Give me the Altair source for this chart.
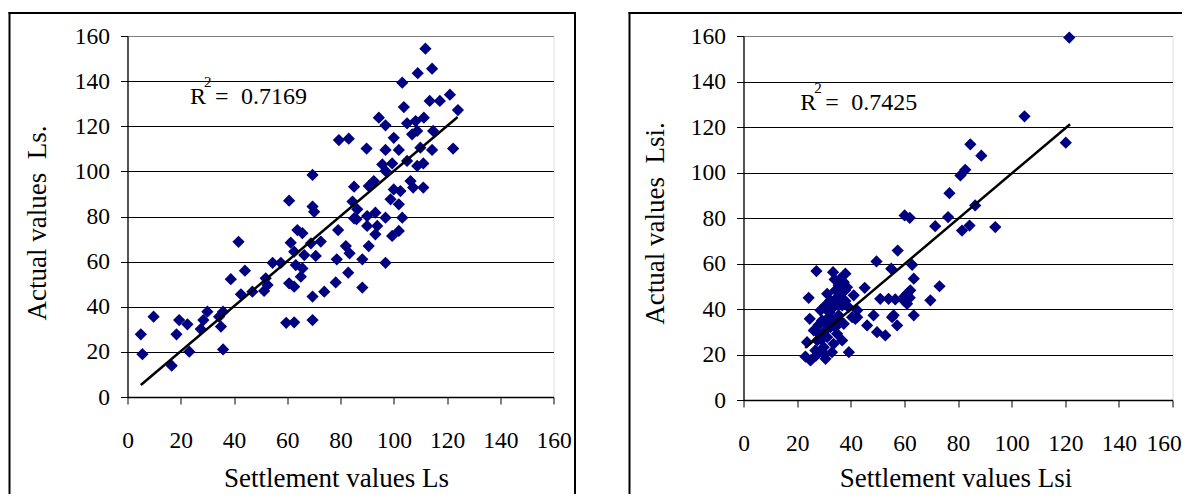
import altair as alt
import pandas as pd

FONT = "Liberation Serif"

# ---------------- data ----------------
ls_x = [5.0, 5.6, 9.8, 16.6, 18.4, 19.4, 22.5, 23.2, 27.5, 28.5, 30.0, 34.4, 35.1, 35.9, 35.9,
        38.8, 41.7, 42.6, 44.1, 46.9, 51.3, 51.9, 52.6, 54.5, 57.6, 59.6, 60.7, 61.3, 62.6, 62.6,
        60.7, 62.6, 63.2, 63.8, 65.7, 65.1, 65.7, 66.4, 68.9, 69.5, 69.5, 70.1, 69.5, 69.5, 70.7,
        72.6, 73.9, 78.2, 78.6, 79.1, 82.0, 82.9, 83.4, 84.5, 85.1, 85.1,
        111.9, 114.4, 109.0, 103.2, 121.1, 113.5, 117.3, 103.8, 124.1, 94.4, 96.9, 105.0, 108.2,
        111.3, 106.9, 108.8, 114.8, 79.4, 83.1, 89.8, 100.0, 96.9, 101.9, 110.0, 114.4, 122.3,
        95.7, 99.4, 96.9, 105.0, 108.8, 111.1, 90.6, 92.5, 100.0, 102.5, 106.3, 107.3, 111.1,
        98.8, 101.9, 86.3, 86.0, 90.0, 93.1, 96.9, 103.2, 90.0, 93.8, 93.1, 99.4, 101.9, 90.6,
        88.2, 96.9, 88.2]
ls_y = [27.8, 19.0, 35.6, 13.9, 27.8, 34.1, 32.2, 20.1, 30.1, 34.1, 37.8, 35.6, 31.2, 37.8, 21.1,
        52.2, 68.8, 45.5, 56.0, 46.7, 47.0, 52.6, 49.6, 59.5, 59.5, 32.9, 87.0, 68.4, 64.4, 33.1,
        50.4, 48.9, 58.5, 74.0, 72.6, 53.3, 57.0, 62.9, 68.1, 98.4, 84.4, 82.1, 44.5, 34.1, 62.5,
        68.9, 46.7, 50.8, 61.0, 74.0, 66.9, 55.1, 63.7, 86.6, 93.2, 79.2,
        154.4, 145.5, 143.5, 139.3, 134.0, 131.2, 131.2, 128.5, 127.2, 123.8, 120.4, 121.3, 122.3,
        123.8, 116.4, 117.9, 117.9, 113.9, 114.5, 110.1, 114.9, 109.5, 109.5, 110.5, 109.5, 110.1,
        103.1, 103.5, 100.2, 104.6, 102.4, 103.5, 93.5, 95.7, 92.0, 91.3, 95.7, 92.8, 92.8,
        87.6, 85.4, 83.2, 78.8, 80.2, 81.7, 79.5, 79.5, 75.8, 75.8, 72.1, 71.4, 73.6, 66.9,
        61.0, 59.5, 48.5]

lsi_x = [121.5, 104.8, 120.2, 84.6, 88.7, 82.7, 80.9, 76.8, 86.4, 76.3, 71.5, 81.5, 84.3, 93.9,
         60.1, 62.0, 62.9, 63.5, 73.1, 69.7, 63.5, 61.0, 62.2, 59.7, 57.5, 49.6, 55.1, 27.2, 33.4,
         38.0, 45.2, 24.3, 51.0, 54.1, 56.6, 61.0, 24.7, 48.5, 55.4, 57.3, 52.9, 49.8, 46.1, 42.4,
         39.3, 23.7, 23.1, 25.0, 30.6, 36.8, 41.7, 28.7, 31.2, 33.6, 36.1, 38.6, 32.4, 34.9, 27.5,
         26.2, 29.9, 33.6, 37.4, 39.2, 36.1, 37.9, 29.3, 31.8, 35.5, 36.8, 32.4, 34.3, 41.1, 40.5,
         42.4, 26.8, 28.1, 31.2, 34.3, 30.6, 35.5, 37.4, 56.0, 30.0, 33.0, 27.0, 32.0, 34.0, 30.0,
         35.0, 38.0, 29.0, 33.0, 36.0, 31.0, 28.0, 34.0, 60.0, 62.0]
lsi_y = [159.3, 124.7, 113.1, 112.4, 107.4, 101.2, 98.7, 90.9, 85.5, 80.4, 76.4, 74.5, 76.7, 76.0,
         81.1, 80.1, 59.4, 53.3, 50.0, 43.8, 37.2, 46.7, 48.2, 43.8, 65.7, 60.9, 57.7, 56.7, 56.2,
         55.5, 49.3, 44.9, 44.5, 44.5, 44.2, 42.3, 35.7, 37.2, 36.4, 32.8, 28.4, 29.8, 32.8, 36.4,
         21.0, 25.4, 19.1, 17.4, 18.1, 26.2, 35.7, 39.4, 46.7, 40.8, 45.2, 49.6, 32.0, 29.1, 26.2,
         30.6, 23.2, 24.7, 33.5, 40.8, 53.3, 48.2, 35.0, 36.4, 37.2, 41.6, 43.8, 48.2, 46.0, 36.4,
         39.4, 21.8, 29.1, 27.6, 32.0, 41.6, 50.4, 51.8, 37.2, 20.5, 21.0, 19.5, 38.5, 44.0, 30.0,
         42.0, 43.5, 26.5, 35.0, 35.0, 33.5, 33.0, 53.0, 45.5, 45.0]

trend_ls_x = [5.0, 124.0]
trend_ls_y = [5.3, 124.1]
trend_lsi_x = [23.0, 121.8]
trend_lsi_y = [22.9, 121.2]

r2_values = ["0.7169", "0.7425"]
r2_x = [23.5, 21.2]
r2_y = [129.8, 127.3]

tick_values = [0, 20, 40, 60, 80, 100, 120, 140, 160]
x_titles = ["Settlement values Ls", "Settlement values Lsi"]
y_titles = ["Actual values \u00a0Ls.", "Actual values \u00a0Lsi."]

GRID_COLOR = {"condition": {"test": "datum.value === 160", "value": "#808080"}, "value": "black"}


def panel(px, py, tx, ty, r2, rx, ry, xtitle, ytitle, w, h, geo):
    xs = alt.Scale(domain=[0, 160], nice=False, zero=False)
    ys = alt.Scale(domain=[0, 160], nice=False, zero=False)
    xaxis = alt.Axis(values=tick_values, grid=False, tickSize=7, tickColor="black", tickWidth=1,
                     domainColor="black", domainWidth=1.3, labelFont=FONT, labelFontSize=23.5,
                     labelColor="black", labelPadding=24.5, labelFlush=False, labelOverlap=False,
                     labelOffset=geo["xlo"],
                     title=xtitle, titleFont=FONT, titleFontSize=27, titleFontWeight="normal",
                     titleColor="black", titleBaseline="alphabetic", titleY=geo["xty"],
                     titleX=geo["xtx"])
    yaxis = alt.Axis(values=tick_values, grid=True, gridColor=GRID_COLOR, gridWidth=1.2,
                     tickSize=7, tickColor="black", tickWidth=1, domainColor="black",
                     domainWidth=1.3, labelFont=FONT, labelFontSize=23.5, labelColor="black",
                     labelPadding=11, labelFlush=False, labelOverlap=False,
                     title=ytitle, titleFont=FONT, titleFontSize=27, titleFontWeight="normal",
                     titleColor="black", titleAngle=270, titleBaseline="alphabetic",
                     titleAlign="center", titleX=geo["ytx"], titleY=geo["yty"])

    pts = pd.DataFrame({"x": px, "y": py})
    scatter = alt.Chart(pts).mark_point(shape="diamond", filled=True, color="#000080",
                                        size=150, opacity=1).encode(
        x=alt.X("x:Q", scale=xs, axis=xaxis),
        y=alt.Y("y:Q", scale=ys, axis=yaxis),
    )
    trend = alt.Chart(pd.DataFrame({"x": tx, "y": ty})).mark_line(
        color="black", strokeWidth=2.5).encode(x="x:Q", y="y:Q")

    ann = pd.DataFrame({"x": [rx], "y": [ry], "v": [r2]})
    tb = alt.Chart(ann).encode(x="x:Q", y="y:Q")
    common = dict(align="left", baseline="alphabetic", font=FONT, color="black")
    t_r = tb.mark_text(text="R", fontSize=24, **common)
    t_2 = tb.mark_text(text="2", dx=14, dy=-17, fontSize=15, **common)
    t_eq = tb.mark_text(text="=", dx=25, fontSize=24, **common)
    t_v = tb.mark_text(dx=51, fontSize=24, **common).encode(text="v:N")

    one = pd.DataFrame({"a": [0]})
    fl, fr, ft, fb = geo["frame"]
    rule = dict(color="black", strokeWidth=2, strokeCap="square")
    left = alt.Chart(one).mark_rule(**rule).encode(
        x=alt.value(fl), y=alt.value(ft), y2=alt.value(fb))
    top = alt.Chart(one).mark_rule(**rule).encode(
        x=alt.value(fl), x2=alt.value(fr), y=alt.value(ft))
    right = alt.Chart(one).mark_rule(**rule).encode(
        x=alt.value(fr), y=alt.value(ft), y2=alt.value(fb))
    layers = [scatter, trend, t_r, t_2, t_eq, t_v, left, top, right]
    return alt.layer(*layers).properties(width=w, height=h)


geo1 = {"xty": 89.5, "xtx": 208.5, "ytx": -82.5, "yty": 186.5, "xlo": 0,
        "frame": (-118, 447.5, -23, 480)}
geo2 = {"xty": 86.5, "xtx": 212, "ytx": -80, "yty": 187,
        "xlo": {"condition": {"test": "datum.value === 160", "value": -9}, "value": 0},
        "frame": (-114, 470, -23, 480)}

p1 = panel(ls_x, ls_y, trend_ls_x, trend_ls_y, r2_values[0], r2_x[0], r2_y[0],
           x_titles[0], y_titles[0], 426, 361, geo1)
p2 = panel(lsi_x, lsi_y, trend_lsi_x, trend_lsi_y, r2_values[1], r2_x[1], r2_y[1],
           x_titles[1], y_titles[1], 429, 364, geo2)

chart = alt.hconcat(p1, p2, spacing=50).properties(
    autosize=alt.AutoSizeParams(type="none"),
    padding={"left": 119.5, "top": 28, "right": 1054.5, "bottom": 458},
).configure_view(stroke="#808080", strokeWidth=1).configure(background="white")

chart.save("out.html", embed_options={"renderer": "svg", "actions": False})
